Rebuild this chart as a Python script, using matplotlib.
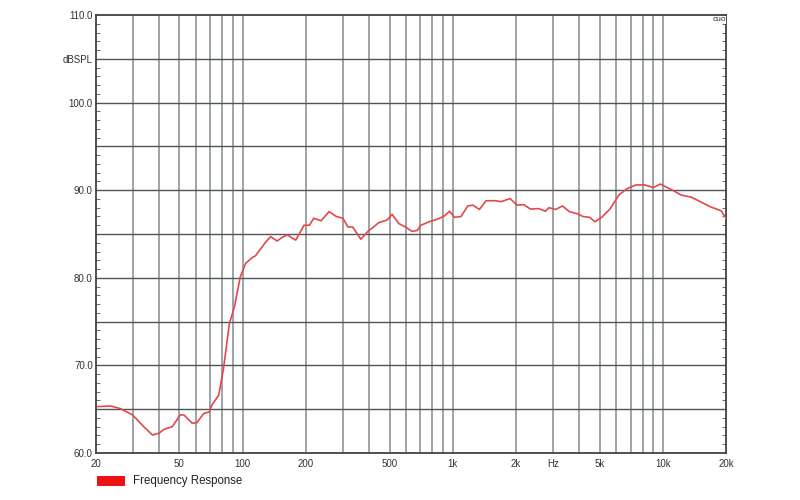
import matplotlib
matplotlib.use("Agg")
import matplotlib.pyplot as plt
from matplotlib.patches import Rectangle
import numpy as np

plt.rcParams['font.family'] = ['Liberation Sans', 'DejaVu Sans']

# Frequency response data (Hz, dB SPL)
freq_hz = [20.4, 23.6, 26.3, 30, 33.9, 37.3, 40, 42.3, 46.3, 50.5, 52.6, 57.6, 60.6,
           65.3, 69.6, 71.6, 77, 81, 86.6, 91.5, 97.5, 103.5, 111, 115, 121, 129, 136,
           146, 154, 163, 179, 196, 208, 218, 236, 258, 279, 300, 317, 334, 365, 395,
           445, 487, 514, 553, 595, 640, 676, 705, 772, 846, 911, 964, 1020, 1094,
           1177, 1245, 1338, 1440, 1582, 1705, 1873, 2018, 2175, 2337, 2560, 2759,
           2863, 3083, 3323, 3581, 3924, 4153, 4476, 4740, 5106, 5609, 6160, 6770,
           7441, 8180, 8990, 9700, 10270, 10870, 11490, 12160, 13640, 15000, 16800,
           18880, 20000]
spl_db = [65.3, 65.36, 65.06, 64.34, 63.0, 62.05, 62.25, 62.7, 63.0, 64.34, 64.34,
          63.4, 63.46, 64.5, 64.7, 65.5, 66.6, 69.5, 74.8, 76.7, 80.1, 81.66, 82.3,
          82.5, 83.2, 84.1, 84.7, 84.2, 84.6, 84.9, 84.3, 86.0, 86.0, 86.8, 86.5,
          87.55, 87.0, 86.8, 85.8, 85.8, 84.4, 85.3, 86.3, 86.6, 87.25, 86.2, 85.8,
          85.3, 85.4, 86.0, 86.4, 86.7, 87.05, 87.6, 86.9, 87.0, 88.2, 88.3, 87.8,
          88.8, 88.8, 88.7, 89.05, 88.3, 88.35, 87.85, 87.9, 87.6, 88.0, 87.8, 88.2,
          87.55, 87.3, 87.0, 86.9, 86.4, 86.9, 87.9, 89.45, 90.2, 90.6, 90.6, 90.3,
          90.7, 90.4, 90.1, 89.8, 89.45, 89.2, 88.7, 88.1, 87.65, 86.7]

y_ticks = [60, 70, 80, 90, 100, 110]
x_tick_vals = [20, 50, 100, 200, 500, 1000, 2000, 3000, 5000, 10000, 20000]
x_tick_labels = ["20", "50", "100", "200", "500", "1k", "2k", "Hz", "5k", "10k", "20k"]
legend_label = "Frequency Response"
y_unit = "dBSPL"

fig = plt.figure(figsize=(8, 5), dpi=100)
ax = fig.add_axes([0.1195, 0.094, 0.7885, 0.876])

ax.set_xscale('log')
ax.set_xlim(20, 20000)
ax.set_ylim(60, 110)

# grid
vgrid = []
for dec in [10, 100, 1000, 10000]:
    for m in range(1, 10):
        v = dec * m
        if 20 < v < 20000:
            vgrid.append(v)
for v in vgrid:
    ax.axvline(v, color='#979c9c', lw=1.3, zorder=1)
for h in range(65, 110, 5):
    ax.axhline(h, color='#4d5656', lw=1.0, zorder=1)

ax.plot(freq_hz, spl_db, color='#e2484c', lw=1.2, zorder=3,
        solid_joinstyle='round', solid_capstyle='round')

for s in ax.spines.values():
    s.set_color('#3a4444')
    s.set_linewidth(1.3)

ax.set_xticks(x_tick_vals)
ax.set_xticklabels(x_tick_labels)
ax.xaxis.set_minor_locator(matplotlib.ticker.NullLocator())
ax.tick_params(axis='x', length=0, pad=4, labelsize=7, colors='#333333')

ytk = y_ticks[:-1] + [105, 110]
ax.set_yticks(ytk)
ax.set_yticklabels([f"{v:.1f}" if v != 105 else y_unit for v in ytk])
ax.set_yticks(np.arange(60, 111, 1), minor=True)
ax.tick_params(axis='y', which='major', length=0, pad=2, labelsize=7, colors='#333333')
ax.tick_params(axis='y', which='minor', direction='in', length=3, width=0.6,
               color='#555555', left=True, right=True)

ax.text(0.999, 0.997, "cuo", transform=ax.transAxes, ha='right', va='top',
        fontsize=6, color='#333333', zorder=5,
        bbox=dict(facecolor='white', edgecolor='none', pad=0.5))

# legend
fig.add_artist(Rectangle((97 / 800, 1 - 486 / 500), 28 / 800, 10 / 500,
                         transform=fig.transFigure, facecolor='#ee1111', edgecolor='none'))
fig.text(133 / 800, 1 - 481 / 500, legend_label, fontsize=8.3, va='center', ha='left',
         color='#222222')

fig.savefig("out.png", dpi=100, facecolor='white')
